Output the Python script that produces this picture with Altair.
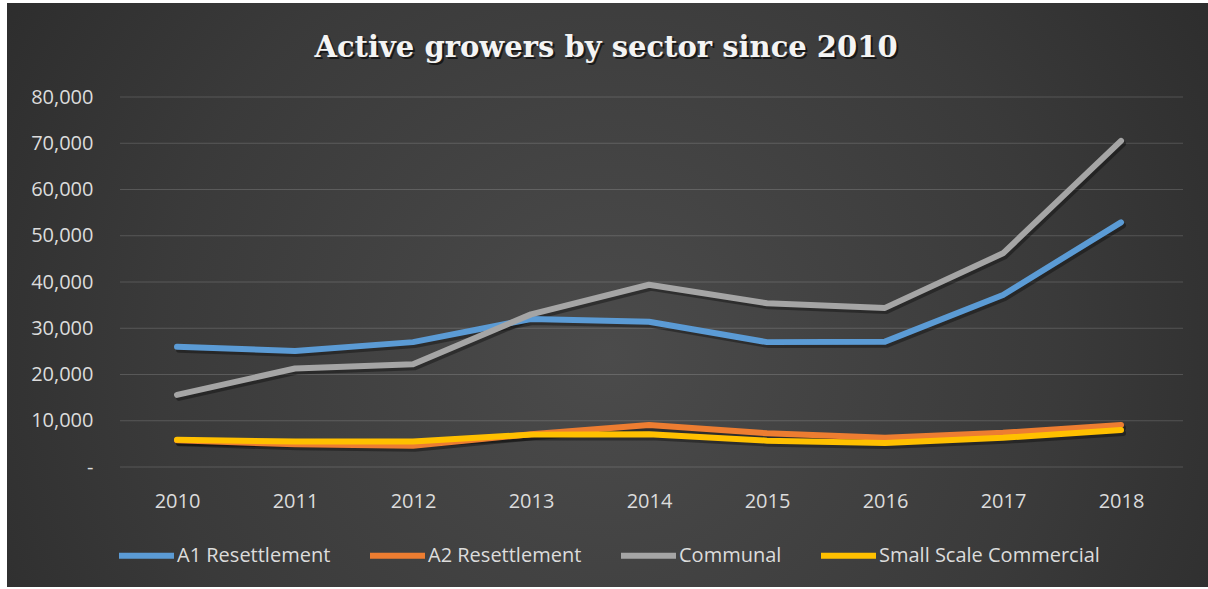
import altair as alt
import pandas as pd

# Growers per sector, 2010-2018
years = ["2010", "2011", "2012", "2013", "2014", "2015", "2016", "2017", "2018"]
series = ["A1 Resettlement", "A2 Resettlement", "Communal", "Small Scale Commercial"]
a1_resettlement = [26000, 25100, 27000, 32000, 31400, 27000, 27100, 37200, 52900]
a2_resettlement = [5800, 4900, 4600, 7100, 9100, 7300, 6300, 7400, 9100]
communal = [15600, 21300, 22200, 33000, 39400, 35400, 34400, 46200, 70500]
small_scale_commercial = [5900, 5500, 5500, 7000, 7100, 5700, 5200, 6300, 8000]
colors = ["#5B9BD5", "#ED7D31", "#A5A5A5", "#FFC000"]
y_ticks = [0, 10000, 20000, 30000, 40000, 50000, 60000, 70000, 80000]
title_text = "Active growers by sector since 2010"

values_by_series = [a1_resettlement, a2_resettlement, communal, small_scale_commercial]
rows = []
for name, vals in zip(series, values_by_series):
    for year, v in zip(years, vals):
        rows.append({"year": year, "sector": name, "growers": v})
df = pd.DataFrame(rows)

W, H = 1062, 370
PAD = {"left": 118, "top": 97, "right": 28, "bottom": 122}
FONT = "Open Sans"
TEXT_COLOR = "#dcdcdc"

one = pd.DataFrame({"k": [0]})

# dark radial backdrop behind the whole figure
backdrop = alt.Chart(one).mark_rect(
    fill=alt.RadialGradient(
        gradient="radial",
        stops=[
            alt.GradientStop(color="#4b4b4b", offset=0),
            alt.GradientStop(color="#3a3a3a", offset=0.5),
            alt.GradientStop(color="#232323", offset=1),
        ],
        x1=0.5, y1=0.55, r1=0, x2=0.5, y2=0.55, r2=0.75,
    )
).encode(
    x=alt.value(7 - PAD["left"]),
    x2=alt.value(1208 - PAD["left"]),
    y=alt.value(3 - PAD["top"]),
    y2=alt.value(587 - PAD["top"]),
)

y_scale = alt.Scale(domain=[0, 80000], nice=False, zero=True)
x_scale = alt.Scale(type="point", padding=0.5, domain=years)

# axes are drawn above the backdrop rectangle
x_axis = alt.Axis(
    title=None, domain=False, ticks=False, grid=False, labelAngle=0, zindex=1,
    labelFont=FONT, labelFontSize=20, labelColor=TEXT_COLOR, labelPadding=24,
)
y_axis = alt.Axis(
    title=None, domain=False, ticks=False, grid=False, values=y_ticks, zindex=1,
    labelExpr="datum.value == 0 ? '-\u00a0\u00a0' : format(datum.value, ',')",
    labelFont=FONT, labelFontSize=20, labelColor=TEXT_COLOR, labelPadding=25,
)

grid = alt.Chart(pd.DataFrame({"t": y_ticks})).mark_rule(
    color="#ffffff", opacity=0.16, strokeWidth=1
).encode(
    y=alt.Y("t:Q", scale=y_scale, axis=y_axis, title=None),
    x=alt.value(2),
    x2=alt.value(W + 3),
)

x_enc = alt.X("year:O", scale=x_scale, sort=years, axis=x_axis, title=None)
y_enc = alt.Y("growers:Q", scale=y_scale, axis=y_axis, title=None)

shadow = alt.Chart(df).mark_line(
    color="#000000", opacity=0.35, strokeWidth=6, strokeCap="round",
    strokeJoin="round", xOffset=2, yOffset=3,
).encode(
    x=x_enc,
    y=y_enc,
    detail="sector:N",
)

lines = alt.Chart(df).mark_line(
    strokeWidth=6, strokeCap="round", strokeJoin="round"
).encode(
    x=x_enc,
    y=y_enc,
    color=alt.Color(
        "sector:N", sort=series,
        scale=alt.Scale(domain=series, range=colors),
        legend=alt.Legend(
            title=None, orient="none", legendX=-2, legendY=428,
            direction="horizontal", symbolType="stroke", symbolSize=3025,
            symbolStrokeWidth=6, labelFont=FONT, labelFontSize=20,
            labelColor=TEXT_COLOR, labelOffset=0, columnPadding=27,
            labelLimit=0, zindex=1,
        ),
    ),
    order=alt.Order("year:O"),
)

title_shadow = alt.Chart(one).mark_text(
    text=title_text, font="DejaVu Serif", fontWeight="bold", fontSize=29,
    color="#000000", opacity=0.6, align="center", baseline="middle",
).encode(x=alt.value(606 - PAD["left"] + 2), y=alt.value(48 - PAD["top"] + 2))

title = alt.Chart(one).mark_text(
    text=title_text, font="DejaVu Serif", fontWeight="bold", fontSize=29,
    color="#f4f4f4", align="center", baseline="middle",
).encode(x=alt.value(606 - PAD["left"]), y=alt.value(48 - PAD["top"]))

chart = alt.layer(backdrop, grid, shadow, lines, title_shadow, title).properties(
    width=W, height=H,
    autosize=alt.AutoSizeParams(type="none"),
    padding=PAD,
    background="#ffffff",
).configure_view(stroke=None)

chart.save("out.html", embed_options={"renderer": "svg", "actions": False})
